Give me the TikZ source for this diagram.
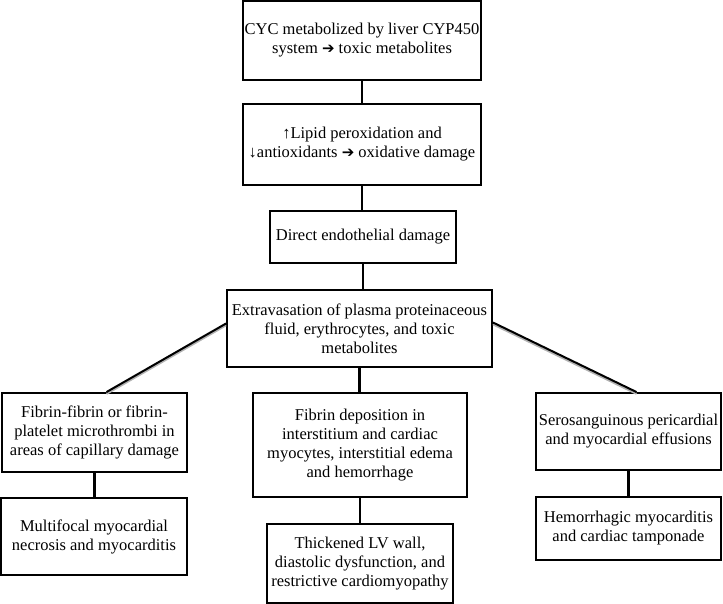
\documentclass[tikz,border=0pt]{standalone}
\usepackage{fontspec}
\setmainfont{Liberation Serif}
\newfontfamily\symfont{DejaVu Sans}
\usepackage{xcolor}
\newcommand{\thenarrow}{{\symfont\fontsize{15}{15}\selectfont ➔}}

\tikzset{
	stepbox/.style={draw, line width=1.9pt, align=center, inner sep=0pt,
		font=\fontsize{16.5}{19}\selectfont},
	link/.style={line width=2.3pt},
	slantlink/.style={line width=2pt,
		preaction={draw, gray!60, line width=2pt, transform canvas={yshift=-1.8pt}}}
}

\begin{document}
\begin{tikzpicture}[x=1pt, y=-1pt]
			\useasboundingbox (0, 0) rectangle (723, 604);
			\coordinate (metab) at (362, 40.5);
			\coordinate (oxid) at (362, 144.5);
			\coordinate (endo) at (363, 237);
			\coordinate (extra) at (359.5, 328.5);
			\coordinate (fibrin) at (94.5, 432.5);
			\coordinate (necro) at (94, 536.5);
			\coordinate (depos) at (360, 445);
			\coordinate (thick) at (360, 563.5);
			\coordinate (sero) at (628.5, 431.5);
			\coordinate (hemo) at (628.5, 528.5);
			\node (b1) at (metab) [stepbox, minimum width=238, minimum height=79] {CYC metabolized by liver CYP450\\ system \thenarrow{} toxic metabolites};
			\node (b2) at (oxid) [stepbox, minimum width=238, minimum height=81] {↑Lipid peroxidation and\\ ↓antioxidants \thenarrow{} oxidative damage};
			\node (b3) at (endo) [stepbox, minimum width=186, minimum height=52] {Direct endothelial damage};
			\node (b4) at (extra) [stepbox, minimum width=265, minimum height=77] {Extravasation of plasma proteinaceous\\ fluid, erythrocytes, and toxic\\ metabolites};
			\node (fa) at (fibrin) [stepbox, minimum width=185, minimum height=79] {Fibrin-fibrin or fibrin-\\ platelet microthrombi in\\ areas of capillary damage};
			\node (fb) at (necro) [stepbox, minimum width=186, minimum height=77] {Multifocal myocardial\\ necrosis and myocarditis};
			\node (fc) at (depos) [stepbox, minimum width=214, minimum height=104] {Fibrin deposition in\\ interstitium and cardiac\\ myocytes, interstitial edema\\ and hemorrhage};
			\node (fd) at (thick) [stepbox, minimum width=186, minimum height=79] {Thickened LV wall,\\ diastolic dysfunction, and\\ restrictive cardiomyopathy};
			\node (fe) at (sero) [stepbox, minimum width=185, minimum height=77] {Serosanguinous pericardial\\ and myocardial effusions};
			\node (ff) at (hemo) [stepbox, minimum width=185, minimum height=63] {Hemorrhagic myocarditis\\ and cardiac tamponade};
			% main chain
			\draw [link] (b1.south) -- (b1.south |- b2.north);
			\draw [link] (b2.south) -- (b2.south |- b3.north);
			\draw [link] (b3.south) -- (b3.south |- b4.north);
			\draw [link] (b4.south) -- (b4.south |- fc.north);
			\draw [link] (fc.south) -- (fc.south |- fd.north);
			% side branches
			\draw [slantlink] ([yshift=5pt]b4.west) -- ([xshift=12pt]fa.north);
			\draw [slantlink] ([yshift=6pt]b4.east) -- ([xshift=8pt]fe.north);
			\draw [link] (fa.south) -- (fa.south |- fb.north);
			\draw [link] (fe.south) -- (fe.south |- ff.north);
		\end{tikzpicture}
\end{document}
